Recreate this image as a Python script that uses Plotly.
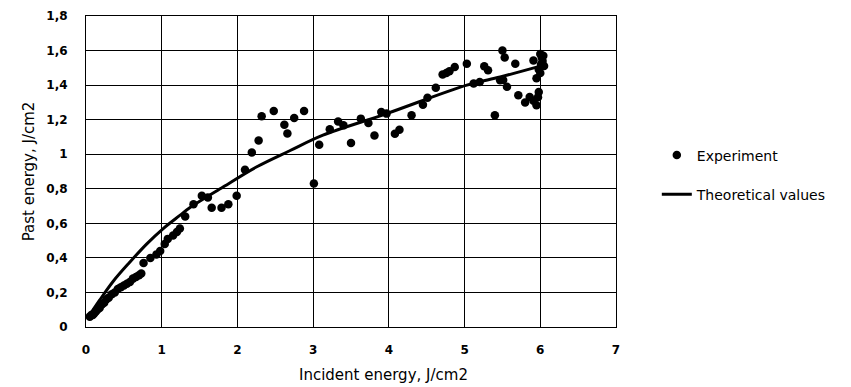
import plotly.graph_objects as go

# Experiment data (incident energy, past energy)
exp_x = [0.05, 0.07, 0.09, 0.11, 0.13, 0.15, 0.18, 0.21, 0.24, 0.27, 0.30, 0.34, 0.38, 0.42,
         0.46, 0.50, 0.54, 0.58, 0.62, 0.66, 0.70, 0.73, 0.76, 0.85, 0.93, 0.98, 1.04, 1.08,
         1.15, 1.20, 1.24, 1.31, 1.42, 1.53, 1.61, 1.66, 1.79, 1.88, 1.99, 2.10, 2.19, 2.28,
         2.32, 2.48, 2.62, 2.66, 2.75, 2.88, 3.01, 3.08, 3.22, 3.33, 3.40, 3.50, 3.63, 3.73,
         3.81, 3.90, 3.97, 4.08, 4.14, 4.30, 4.45, 4.51, 4.62, 4.71, 4.76, 4.80, 4.87, 5.03,
         5.12, 5.20, 5.26, 5.31, 5.40, 5.47, 5.50, 5.53, 5.51, 5.56, 5.67, 5.71, 5.80, 5.86,
         5.91, 5.95, 5.98, 5.97, 5.95, 6.00, 6.00, 6.02, 6.03, 6.05, 5.98, 6.04, 6.01, 5.91]
exp_y = [0.06, 0.07, 0.07, 0.08, 0.09, 0.10, 0.11, 0.13, 0.14, 0.16, 0.17, 0.19, 0.20, 0.22,
         0.23, 0.24, 0.25, 0.26, 0.28, 0.29, 0.30, 0.31, 0.37, 0.40, 0.42, 0.44, 0.48, 0.51,
         0.53, 0.55, 0.57, 0.64, 0.71, 0.76, 0.75, 0.69, 0.69, 0.71, 0.76, 0.91, 1.01, 1.08,
         1.22, 1.25, 1.17, 1.12, 1.21, 1.25, 0.83, 1.055, 1.145, 1.19, 1.167, 1.065, 1.206, 1.181,
         1.109, 1.244, 1.235, 1.119, 1.142, 1.225, 1.287, 1.327, 1.385, 1.462, 1.47, 1.48, 1.505, 1.524,
         1.409, 1.418, 1.509, 1.486, 1.225, 1.428, 1.60, 1.56, 1.43, 1.39, 1.524, 1.341, 1.30, 1.331,
         1.31, 1.283, 1.36, 1.33, 1.44, 1.47, 1.58, 1.56, 1.54, 1.51, 1.49, 1.57, 1.52, 1.543]

# Theoretical curve
theo_x = [0.05, 0.18, 0.36, 0.58, 0.80, 1.02, 1.24, 1.37, 1.81, 2.25, 2.69, 3.13, 3.97, 5.03, 5.47, 6.00]
theo_y = [0.07, 0.155, 0.265, 0.376, 0.48, 0.57, 0.646, 0.69, 0.81, 0.926, 1.02, 1.11, 1.235, 1.40, 1.447, 1.51]

x_ticks = [0, 1, 2, 3, 4, 5, 6, 7]
y_ticks = [0, 0.2, 0.4, 0.6, 0.8, 1.0, 1.2, 1.4, 1.6, 1.8]

fig = go.Figure()
fig.add_trace(go.Scatter(
    x=exp_x, y=exp_y, mode="markers", name="Experiment", legendgroup="a",
    marker=dict(color="black", size=8.5, symbol="circle"),
))
fig.add_trace(go.Scatter(
    x=theo_x, y=theo_y, mode="lines", name="Theoretical values", legendgroup="b",
    line=dict(color="black", width=3, shape="spline", smoothing=1.0),
))

tick_font = dict(family="DejaVu Sans", size=12, color="black", weight="bold")
title_font = dict(family="DejaVu Sans", size=15, color="black")
fig.update_layout(
    width=851, height=387,
    margin=dict(l=86, r=235, t=16, b=60, autoexpand=False),
    paper_bgcolor="white", plot_bgcolor="white",
    separators=", ",
    showlegend=True,
    legend=dict(x=1.077, y=0.603, xanchor="left", yanchor="top",
                font=dict(family="DejaVu Sans", size=14, color="black"),
                tracegroupgap=18, bgcolor="rgba(0,0,0,0)"),
    xaxis=dict(range=[0, 7], tickvals=x_ticks, showgrid=True, gridcolor="black", gridwidth=1,
               showline=True, linecolor="black", linewidth=1, mirror=True, zeroline=False,
               tickfont=tick_font, ticks="", ticklabelstandoff=12, automargin=False),
    yaxis=dict(range=[0, 1.8], tickvals=y_ticks, showgrid=True, gridcolor="black", gridwidth=1,
               showline=True, linecolor="black", linewidth=1, mirror=True, zeroline=False,
               tickfont=tick_font, ticks="", ticklabelstandoff=15, automargin=False,
               title=dict(text="Past energy, J/cm2", standoff=8, font=title_font)),
    annotations=[dict(text="Incident energy, J/cm2", xref="paper", yref="paper",
                      x=0.562, y=0, xanchor="center", yanchor="top", yshift=-37,
                      showarrow=False, font=title_font)],
)

fig.write_html("out.html")
